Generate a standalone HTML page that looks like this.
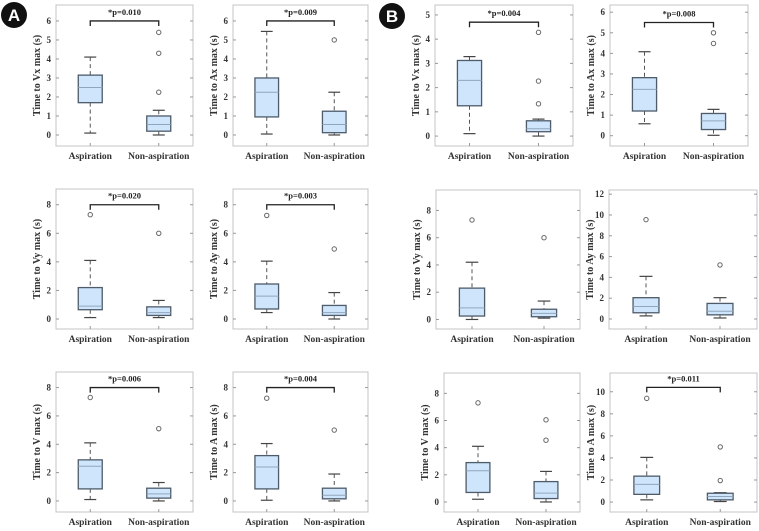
<!DOCTYPE html>
<html><head><meta charset="utf-8">
<style>
body{margin:0;background:#fff;}
svg{display:block;font-family:"Liberation Serif",serif;font-weight:bold;}
</style></head>
<body>
<svg id="fig" width="759" height="531" viewBox="0 0 759 531" xmlns="http://www.w3.org/2000/svg">
<g><circle cx="14" cy="15" r="13" fill="#111"/><text x="14" y="21" text-anchor="middle" fill="#fff" font-family="Liberation Sans,sans-serif" font-size="17">A</text></g>
<g><circle cx="392" cy="16" r="13" fill="#111"/><text x="392" y="22" text-anchor="middle" fill="#fff" font-family="Liberation Sans,sans-serif" font-size="17">B</text></g>
</svg>
<script>
const categories = ['Aspiration','Non-aspiration'];
const yLabels = ['Time to Vx max (s)','Time to Ax max (s)','Time to Vx max (s)','Time to Ax max (s)',
  'Time to Vy max (s)','Time to Ay max (s)','Time to Vy max (s)','Time to Ay max (s)',
  'Time to V max (s)','Time to A max (s)','Time to V max (s)','Time to A max (s)'];
// [whiskerLow, q1, median, q3, whiskerHigh]
const aspStats = [[0.1,1.7,2.5,3.15,4.1],[0.05,0.95,2.25,3.0,5.45],[0.1,1.25,2.3,3.12,3.28],[0.58,1.2,2.25,2.82,4.08],
  [0.1,0.65,0.9,2.2,4.1],[0.45,0.7,1.6,2.45,4.05],[0,0.25,0.85,2.3,4.2],[0.3,0.6,1.2,2.05,4.1],
  [0.1,0.85,2.45,2.9,4.1],[0.05,0.85,2.4,3.2,4.05],[0.2,0.7,2.3,2.9,4.1],[0.2,0.7,1.6,2.35,4.05]];
const nonStats = [[0,0.2,0.55,1.0,1.3],[0,0.12,0.55,1.25,2.25],[0,0.18,0.3,0.63,0.7],[0.02,0.3,0.72,1.08,1.28],
  [0.1,0.25,0.45,0.85,1.3],[0,0.25,0.45,0.95,1.85],[0.1,0.2,0.45,0.75,1.35],[0.1,0.4,0.75,1.5,2.05],
  [0,0.2,0.5,0.9,1.3],[0,0.15,0.4,0.9,1.9],[0,0.25,0.65,1.5,2.25],[0.05,0.2,0.5,0.8,0.85]];
const aspOutliers = [[],[],[],[],[7.3],[7.25],[7.3],[9.55],[7.3],[7.25],[7.3],[9.4]];
const nonOutliers = [[2.25,4.3,5.4],[5.0],[1.33,2.27,4.28],[4.48,5.0],[6.0],[4.9],[6.0],[5.2],[5.1],[5.0],[4.55,6.05],[1.95,5.0]];
const pValues = ['*p=0.010','*p=0.009','*p=0.004','*p=0.008','*p=0.020','*p=0.003','','','*p=0.006','*p=0.004','','*p=0.011'];
const bracketY = [6,6,4.7,5.5,8,8,null,null,8,8,null,10.4];
const yMin = [-0.58,-0.58,-0.41,-0.5,-0.7,-0.7,-0.7,-0.96,-0.78,-0.78,-0.74,-0.9];
const yMax = [6.84,6.84,5.41,6.35,9.1,9.1,9.5,12.4,9.1,9.1,9.5,11.7];
const tickMax = [6,6,5,6,8,8,8,12,8,8,8,10];
const tickStep = [1,1,1,1,2,2,2,2,2,2,2,2];
// layout: [left, right, top, bottom] in px
const layout = [[56,193,5,146],[233,368,5,146],[435,573,5,146],[610,748,5,146],
  [56,193,189,329],[233,368,189,329],[436,580,190,329],[609,757,190,329],
  [56,193,372,512],[233,368,372,512],[444,580,373,512],[610,757,373,512]];

const NS='http://www.w3.org/2000/svg';
const svg=document.getElementById('fig');
function mk(tag,attrs,parent){const e=document.createElementNS(NS,tag);for(const k in attrs)e.setAttribute(k,attrs[k]);(parent||svg).appendChild(e);return e;}

for(let p=0;p<12;p++){
  const [L,R,T,B]=layout[p];
  const g=mk('g',{});
  
  
  const y=v=>B-(v-yMin[p])/(yMax[p]-yMin[p])*(B-T);
  const x=i=>L+(i+0.5)/2*(R-L);
  const unit=(R-L)/2;
  const frame=mk('rect',{x:L,y:T,width:R-L,height:B-T,fill:'none',stroke:'#c4c4c4','stroke-width':1},g);
  
  
  for(let t=0;t<=tickMax[p]+1e-9;t+=tickStep[p]){
    const ty=y(t);
    mk('line',{x1:L,x2:L+3,y1:ty,y2:ty,stroke:'#999'},g);
    mk('line',{x1:R,x2:R-3,y1:ty,y2:ty,stroke:'#999'},g);
    const tl=mk('text',{x:L-5,y:ty+3,'text-anchor':'end','font-size':9,fill:'#333'},g);
    tl.textContent=t;
    
    
  }
  const yl=mk('text',{x:0,y:0,'text-anchor':'middle','font-size':10,fill:'#333',transform:`translate(${L-16},${(T+B)/2}) rotate(-90)`},g);
  yl.textContent=yLabels[p];
  
  
  const sets=[[aspStats[p],aspOutliers[p]],[nonStats[p],nonOutliers[p]]];
  for(let c=0;c<2;c++){
    const cx=x(c);
    mk('line',{x1:cx,x2:cx,y1:B,y2:B-3,stroke:'#999'},g);
    const xl=mk('text',{x:cx,y:B+13,'text-anchor':'middle','font-size':9.5,fill:'#333'},g);
    xl.textContent=categories[c];
    
    
    const [lo,q1,md,q3,hi]=sets[c][0];
    const bw=0.35*unit, cw=bw/2;
    mk('line',{x1:cx,x2:cx,y1:y(hi),y2:y(q3),stroke:'#555','stroke-dasharray':'4,3'},g);
    mk('line',{x1:cx,x2:cx,y1:y(q1),y2:y(lo),stroke:'#555','stroke-dasharray':'4,3'},g);
    mk('line',{x1:cx-cw/2,x2:cx+cw/2,y1:y(hi),y2:y(hi),stroke:'#444','stroke-width':1.2},g);
    mk('line',{x1:cx-cw/2,x2:cx+cw/2,y1:y(lo),y2:y(lo),stroke:'#444','stroke-width':1.2},g);
    const box=mk('rect',{x:cx-bw/2,y:y(q3),width:bw,height:y(q1)-y(q3),fill:'#cfe5fb',stroke:'#4d5b6a','stroke-width':1.3},g);
    
    
    mk('line',{x1:cx-bw/2,x2:cx+bw/2,y1:y(md),y2:y(md),stroke:'#8fa6bd','stroke-width':1},g);
    for(const o of sets[c][1]){
      const oc=mk('circle',{cx:cx,cy:y(o),r:2.2,fill:'none',stroke:'#666','stroke-width':1},g);
      
      
    }
  }
  if(bracketY[p]!==null){
    const by=y(bracketY[p]);
    const br=mk('path',{d:`M${x(0)},${by+5}V${by}H${x(1)}V${by+5}`,fill:'none',stroke:'#222','stroke-width':1.3},g);
    
    
    const pt=mk('text',{x:(x(0)+x(1))/2,y:by-6,'text-anchor':'middle','font-size':8.5,fill:'#222'},g);
    pt.textContent=pValues[p];
    
    
  }
}
</script>
</body></html>
